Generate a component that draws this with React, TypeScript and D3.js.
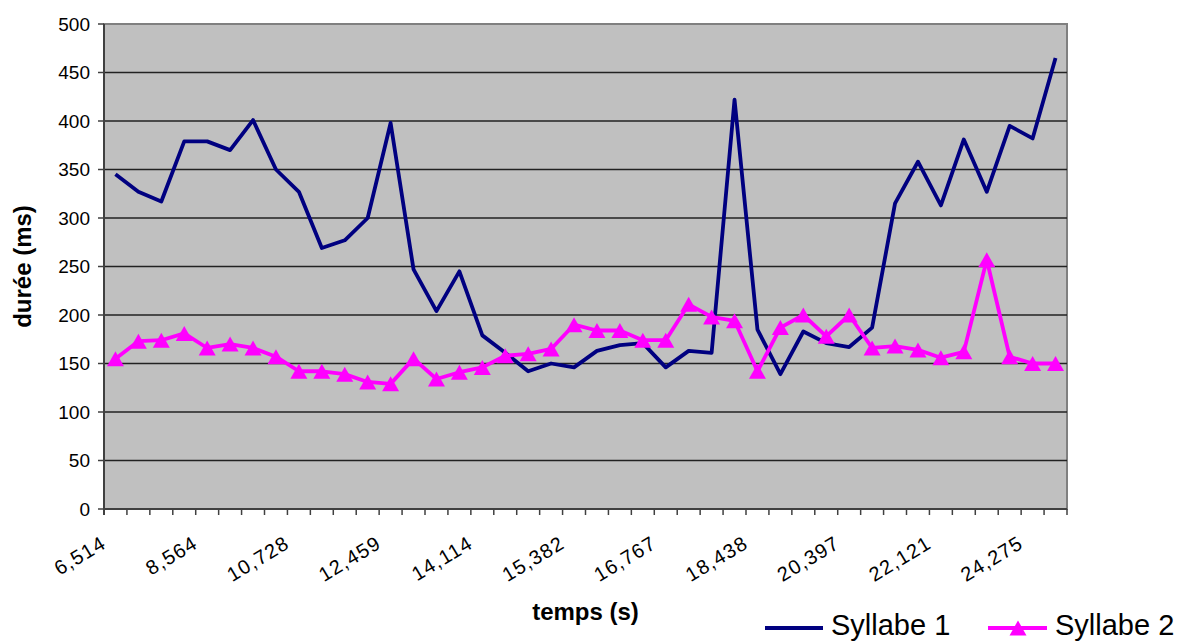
import { useEffect, useRef } from 'react'
import * as d3 from 'd3'

// durée (ms) per syllable, one value per time sample
const syllabe1 = [
  345, 327, 317, 379, 379, 370, 401, 350, 327, 269, 277, 300, 398, 247, 204, 245, 179, 161, 142, 150, 146,
  163, 169, 171, 146, 163, 161, 422, 185, 139, 183, 171, 167, 187, 315, 358, 313, 381, 327, 395, 382, 465,
]
const syllabe2 = [
  155, 173, 174, 181, 166, 170, 166, 157, 142, 142, 139, 131, 129, 155, 134, 141, 146, 158, 160, 165, 190,
  184, 184, 174, 174, 211, 198, 194, 142, 187, 200, 178, 200, 166, 168, 164, 156, 162, 257, 157, 150, 150,
]
// only every 4th time label is shown on the axis
const timeLabels = ['6,514', '8,564', '10,728', '12,459', '14,114', '15,382', '16,767', '18,438', '20,397', '22,121', '24,275']
const LABEL_STEP = 4
const yTicks = [0, 50, 100, 150, 200, 250, 300, 350, 400, 450, 500]
const seriesNames = ['Syllabe 1', 'Syllabe 2']

const W = 1184
const H = 642
const PLOT = { left: 104, right: 1067, top: 24, bottom: 509 }
const FONT = 'Arial, "Liberation Sans", sans-serif'
const NAVY = '#000080'
const MAGENTA = '#FF00FF'

function trianglePath(cx: number, cy: number) {
  return `M${cx},${cy - 7.5}L${cx + 8.5},${cy + 7.5}L${cx - 8.5},${cy + 7.5}Z`
}

export default function App() {
  const svgRef = useRef<SVGSVGElement>(null)

  useEffect(() => {
    if (!svgRef.current) return
    const svg = d3.select(svgRef.current)
    svg.selectAll('*').remove()

    const idx = d3.range(syllabe1.length)
    const x = d3.scaleBand<number>().domain(idx).range([PLOT.left, PLOT.right])
    const cx = (i: number) => (x(i) as number) + x.bandwidth() / 2
    const y = d3.scaleLinear().domain([0, 500]).range([PLOT.bottom, PLOT.top])

    // plot background
    svg.append('rect')
      .attr('x', PLOT.left).attr('y', PLOT.top)
      .attr('width', PLOT.right - PLOT.left).attr('height', PLOT.bottom - PLOT.top)
      .attr('fill', '#C0C0C0')
      .attr('stroke', '#808080').attr('stroke-width', 2)

    // gridlines
    svg.append('g').selectAll('line')
      .data(yTicks.filter((t) => t > 0 && t < 500))
      .join('line')
      .attr('x1', PLOT.left).attr('x2', PLOT.right)
      .attr('y1', (d) => y(d)).attr('y2', (d) => y(d))
      .attr('stroke', '#222').attr('stroke-width', 1.3)

    // y axis
    const yAxis = svg.append('g')
    yAxis.append('line')
      .attr('x1', PLOT.left).attr('x2', PLOT.left)
      .attr('y1', PLOT.top).attr('y2', PLOT.bottom + 6)
      .attr('stroke', '#404040').attr('stroke-width', 2)
    yAxis.selectAll('line.tick')
      .data(yTicks)
      .join('line')
      .attr('class', 'tick')
      .attr('x1', PLOT.left - 6).attr('x2', PLOT.left)
      .attr('y1', (d) => y(d)).attr('y2', (d) => y(d))
      .attr('stroke', '#404040').attr('stroke-width', 1.5)
    yAxis.selectAll('text')
      .data(yTicks)
      .join('text')
      .attr('x', PLOT.left - 14)
      .attr('y', (d) => y(d))
      .attr('dy', '0.36em')
      .attr('text-anchor', 'end')
      .attr('font-family', FONT).attr('font-size', 19)
      .attr('fill', '#000')
      .text((d) => d)

    // x axis
    const xAxis = svg.append('g')
    xAxis.append('line')
      .attr('x1', PLOT.left).attr('x2', PLOT.right)
      .attr('y1', PLOT.bottom).attr('y2', PLOT.bottom)
      .attr('stroke', '#404040').attr('stroke-width', 2)
    xAxis.selectAll('line.tick')
      .data(d3.range(syllabe1.length + 1))
      .join('line')
      .attr('class', 'tick')
      .attr('x1', (i) => PLOT.left + i * x.step()).attr('x2', (i) => PLOT.left + i * x.step())
      .attr('y1', PLOT.bottom).attr('y2', PLOT.bottom + 6)
      .attr('stroke', '#404040').attr('stroke-width', 1.5)
    xAxis.selectAll('text')
      .data(timeLabels)
      .join('text')
      .attr('transform', (_, k) => `translate(${cx(k * LABEL_STEP) - 8},${PLOT.bottom + 38}) rotate(-31)`)
      .attr('text-anchor', 'end')
      .attr('font-family', FONT).attr('font-size', 20)
      .attr('letter-spacing', 1.2)
      .attr('fill', '#000')
      .text((d) => d)

    // axis titles
    svg.append('text')
      .attr('x', (PLOT.left + PLOT.right) / 2).attr('y', 620)
      .attr('text-anchor', 'middle')
      .attr('font-family', FONT).attr('font-size', 24).attr('font-weight', 'bold')
      .text('temps (s)')
    svg.append('text')
      .attr('transform', `translate(31,${(PLOT.top + PLOT.bottom) / 2}) rotate(-90)`)
      .attr('text-anchor', 'middle')
      .attr('font-family', FONT).attr('font-size', 24).attr('font-weight', 'bold')
      .text('durée (ms)')

    const line = d3.line<number>().x((_, i) => cx(i)).y((d) => y(d))

    // Syllabe 1
    svg.append('path')
      .datum(syllabe1)
      .attr('d', line)
      .attr('fill', 'none').attr('stroke', NAVY).attr('stroke-width', 3.8)
      .attr('stroke-linejoin', 'round')

    // Syllabe 2 with triangle markers
    svg.append('path')
      .datum(syllabe2)
      .attr('d', line)
      .attr('fill', 'none').attr('stroke', MAGENTA).attr('stroke-width', 3.8)
      .attr('stroke-linejoin', 'round')
    svg.append('g').selectAll('path')
      .data(syllabe2)
      .join('path')
      .attr('d', (d, i) => trianglePath(cx(i), y(d)))
      .attr('fill', MAGENTA)

    // legend
    const legend = svg.append('g')
    legend.append('line')
      .attr('x1', 765).attr('x2', 823).attr('y1', 628).attr('y2', 628)
      .attr('stroke', NAVY).attr('stroke-width', 4)
    legend.append('text')
      .attr('x', 831).attr('y', 635)
      .attr('font-family', FONT).attr('font-size', 29)
      .text(seriesNames[0])
    legend.append('line')
      .attr('x1', 988).attr('x2', 1047).attr('y1', 628).attr('y2', 628)
      .attr('stroke', MAGENTA).attr('stroke-width', 4)
    legend.append('path')
      .attr('d', trianglePath(1018, 628))
      .attr('fill', MAGENTA)
    legend.append('text')
      .attr('x', 1055).attr('y', 635)
      .attr('font-family', FONT).attr('font-size', 29)
      .text(seriesNames[1])
  }, [])

  return (
    <div style={{ position: 'absolute', left: 0, top: 0 }}>
      <svg ref={svgRef} width={W} height={H} style={{ display: 'block', background: '#fff' }} />
    </div>
  )
}
